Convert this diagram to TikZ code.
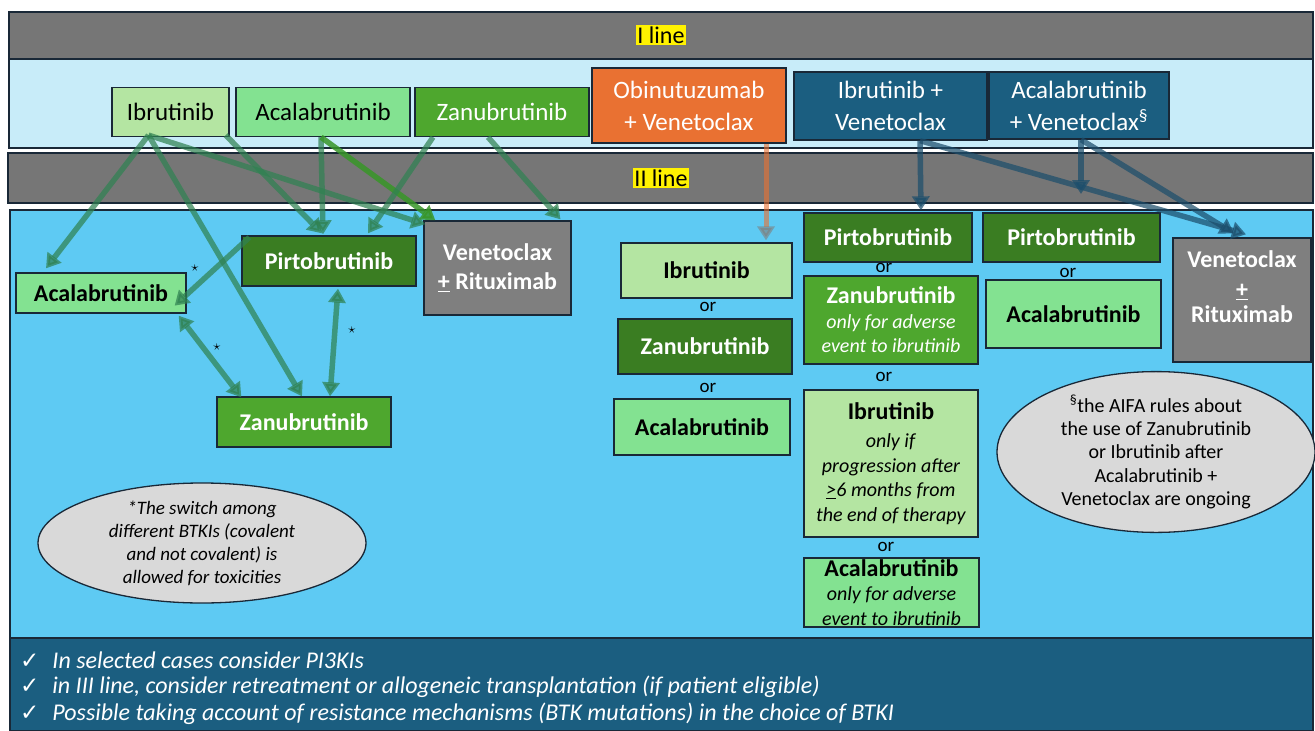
\documentclass[tikz,border=0pt]{standalone}
\usepackage{fontspec}
\setmainfont{Carlito}
\newfontfamily\chkfont{DejaVu Sans}
\usetikzlibrary{arrows.meta,calc,shapes.geometric}
\definecolor{bandgray}{RGB}{118,118,118}
\definecolor{paleblue}{RGB}{200,236,249}
\definecolor{skyblue}{RGB}{94,202,243}
\definecolor{navy}{RGB}{27,94,128}
\definecolor{edge}{RGB}{25,40,55}
\definecolor{ibgreen}{RGB}{180,229,162}
\definecolor{acgreen}{RGB}{131,226,145}
\definecolor{zagreen}{RGB}{78,167,46}
\definecolor{pigreen}{RGB}{58,125,34}
\definecolor{vengray}{RGB}{127,127,127}
\definecolor{obiorange}{RGB}{233,113,50}
\definecolor{ovalgray}{RGB}{217,217,217}
\definecolor{arrowgreen}{RGB}{48,130,82}
\definecolor{brightgreen}{RGB}{56,150,40}
\definecolor{arrowblue}{RGB}{28,78,108}
\newcommand{\drug}[1]{{\fontsize{24}{25}\selectfont\bfseries #1}}

\begin{document}
\begin{tikzpicture}[x=1pt,y=-1pt,
  >={Triangle[length=14pt,width=17pt]},
  box/.style={draw=edge,line width=1.3pt,inner sep=0pt,align=center},
  first/.style={font=\fontsize{25}{32}\selectfont},
  second/.style={font=\fontsize{24}{29}\selectfont\bfseries},
  note/.style={font=\fontsize{20}{24.5}\selectfont},
  orword/.style={font=\fontsize{19}{20}\selectfont,inner sep=0pt},
  oval/.style={ellipse,draw=edge,line width=1.3pt,fill=ovalgray,inner sep=0pt,align=center},
  band/.style={draw=edge,line width=1.5pt},
  tag/.style={fill=yellow,inner sep=1.5pt,font=\fontsize{24}{28}\selectfont},
  link/.style={draw=arrowgreen,opacity=0.72,line width=5.5pt,->},
  linkb/.style={draw=brightgreen,opacity=0.85,line width=5.5pt,->},
  linkn/.style={draw=arrowblue,opacity=0.72,line width=5.5pt,->},
  linko/.style={draw=obiorange,opacity=0.6,line width=5pt,-{Triangle[length=14pt,width=17pt,color=vengray]}},
  bullet/.style={anchor=west,inner sep=0pt,text=white,font=\fontsize{24}{27}\selectfont\itshape}]
\fill[white] (0,0) rectangle (1315,731);
\useasboundingbox (0,0) rectangle (1315,731);

\draw[band,fill=bandgray] (9,12) rectangle (1313,59);
\draw[band,fill=paleblue] (9,59) rectangle (1313,148);
\draw[band,fill=bandgray] (8,153) rectangle (1313,203);
\draw[band,fill=skyblue] (10,210) rectangle (1313,638);
\draw[band,fill=navy] (10,638) rectangle (1313,731);
\node[tag] (l1) at (661,35) {I line};
\node[tag] (l2) at (661,178) {II line};

\node[box,first,fill=ibgreen,minimum width=117pt,minimum height=49pt] (ib1) at (170.5,112) {Ibrutinib};
\node[box,first,fill=acgreen,minimum width=174pt,minimum height=49pt] (ac1) at (323,112) {Acalabrutinib};
\node[box,first,fill=zagreen,text=white,minimum width=174pt,minimum height=49pt] (za1) at (502,112) {Zanubrutinib};
\node[box,first,fill=obiorange,text=white,minimum width=194pt,minimum height=75pt] (ob1) at (689,105.5) {Obinutuzumab\\+ Venetoclax};
\node[box,first,fill=navy,text=white,minimum width=193pt,minimum height=68pt] (ibv1) at (890.5,106) {Ibrutinib +\\Venetoclax};
\node[box,first,fill=navy,text=white,minimum width=180pt,minimum height=67pt] (acv1) at (1079,105.5) {Acalabrutinib\\+ Venetoclax\textsuperscript{\S}};

\node[box,second,fill=acgreen,minimum width=170pt,minimum height=40pt] (ac2) at (101,293) {Acalabrutinib};
\node[box,second,fill=pigreen,text=white,minimum width=174pt,minimum height=50pt] (pi2) at (329,261) {Pirtobrutinib};
\node[box,second,fill=vengray,text=white,minimum width=147pt,minimum height=94pt] (ve2) at (497.5,268) {Venetoclax\\\underline{+} Rituximab};
\node[box,second,fill=zagreen,text=white,minimum width=174pt,minimum height=50pt] (za2) at (304,422) {Zanubrutinib};
\node[font=\fontsize{14}{14}\selectfont] (st1) at (195,268) {$\star$};
\node[font=\fontsize{14}{14}\selectfont] (st2) at (217,347) {$\star$};
\node[font=\fontsize{14}{14}\selectfont] (st3) at (352,330) {$\star$};

\node[box,second,fill=ibgreen,minimum width=171pt,minimum height=55pt] (ib3) at (706.5,270.5) {Ibrutinib};
\node[orword] (or1) at (708,307) {or};
\node[box,second,fill=pigreen,text=white,minimum width=174pt,minimum height=55pt] (za3) at (705,346.5) {Zanubrutinib};
\node[orword] (or2) at (708,388) {or};
\node[box,second,fill=acgreen,minimum width=176pt,minimum height=56pt] (ac3) at (702,427) {Acalabrutinib};

\node[box,second,fill=pigreen,text=white,minimum width=168pt,minimum height=49pt] (pi4) at (888,237.5) {Pirtobrutinib};
\node[orword] (or3) at (884,268) {or};
\node[box,note,fill=zagreen,text=white,minimum width=174pt,minimum height=88pt] (za4) at (891,320) {\drug{Zanubrutinib}\\\textit{only for adverse}\\\textit{event to ibrutinib}};
\node[orword] (or4) at (884,377) {or};
\node[box,note,fill=ibgreen,minimum width=174pt,minimum height=147pt] (ib4) at (891,463.5) {\drug{Ibrutinib}\\[4pt]\textit{only if}\\\textit{progression after}\\\textit{\underline{>}6 months from}\\\textit{the end of therapy}};
\node[orword] (or5) at (886,547) {or};
\node[box,note,fill=acgreen,minimum width=175pt,minimum height=69pt] (ac4) at (891.5,592.5) {\drug{Acalabrutinib}\\\textit{only for adverse}\\\textit{event to ibrutinib}};

\node[box,second,fill=pigreen,text=white,minimum width=177pt,minimum height=49pt] (pi5) at (1071.5,237.5) {Pirtobrutinib};
\node[orword] (or6) at (1068,273) {or};
\node[box,second,fill=acgreen,minimum width=175pt,minimum height=68pt] (ac5) at (1073.5,314) {Acalabrutinib};
\node[box,second,fill=vengray,text=white,minimum width=138pt,minimum height=124pt] (ve6) at (1242,300) {Venetoclax\\[1pt]\underline{+}\\[-4pt]Rituximab\\[-3pt]\phantom{R}};

\node[oval,minimum width=328pt,minimum height=120pt,font=\fontsize{19}{23}\selectfont\itshape] (el1) at (202,543) {*The switch among\\different BTKIs (covalent\\and not covalent) is\\allowed for toxicities};
\node[oval,minimum width=318pt,minimum height=154pt,font=\fontsize{20}{23.3}\selectfont] (el2) at (1156,452) {\textsuperscript{\S}the AIFA rules about\\the use of Zanubrutinib\\or Ibrutinib after\\Acalabrutinib +\\Venetoclax are ongoing};

\draw[link] ($(ib1.south)+(-22,-2)$) -- ($(ac2.north)+(-55,-4)$);
\draw[link] ($(ib1.south)+(-22,-2)$) -- ($(za2.north)+(-2,0)$);
\draw[link] ($(ib1.south)+(-22,-2)$) -- ($(ve2.north west)+(2,4)$);
\draw[link] ($(ib1.south east)+(-4,-2)$) -- ($(pi2.north)+(-7,-2)$);
\draw[link] ($(ac1.south)+(-2,0)$) -- ($(pi2.north)+(-6,-1)$);
\draw[linkb] ($(ac1.south)+(-2,0)$) -- ($(ve2.north west)+(12,0)$);
\draw[link] ($(za1.south)+(-69,0)$) -- ($(pi2.north)+(39,-2)$);
\draw[link] ($(za1.south)+(-14,0)$) -- ($(ve2.north)+(63,-1)$);
\draw[link] ($(pi2.north west)+(8,2)$) -- ($(ac2.south east)+(-12,-8)$);
\draw[link,<->] ($(ac2.south east)+(-8,2)$) -- ($(za2.north west)+(25,1)$);
\draw[link,<->] ($(pi2.south)+(9,2)$) -- ($(za2.north)+(26,0)$);

\draw[linko] ($(ob1.south)+(77,0)$) -- ($(ib3.north)+(59.5,-2)$);
\draw[linkn] ($(ibv1.south)+(29.5,0)$) -- ($(pi4.north)+(33,-2)$);
\draw[linkn] ($(ibv1.south)+(29.5,0)$) -- ($(ve6.north)+(4,-3)$);
\coordinate (acvend) at (1081,194);
\draw[linkn] ($(acv1.south)+(2,0)$) -- (acvend);
\draw[linkn] ($(acv1.south)+(2,0)$) -- ($(ve6.north)+(-8,-4)$);

\node[bullet] (b1) at (20,660) {{\chkfont\upshape\fontsize{23}{23}\selectfont ✓}\hspace{13pt}In selected cases consider PI3KIs};
\node[bullet] (b2) at (20,687) {{\chkfont\upshape\fontsize{23}{23}\selectfont ✓}\hspace{13pt}in III line, consider retreatment or allogeneic transplantation (if patient eligible)};
\node[bullet] (b3) at (20,714) {{\chkfont\upshape\fontsize{23}{23}\selectfont ✓}\hspace{13pt}Possible taking account of resistance mechanisms (BTK mutations) in the choice of BTKI};
\end{tikzpicture}
\end{document}
